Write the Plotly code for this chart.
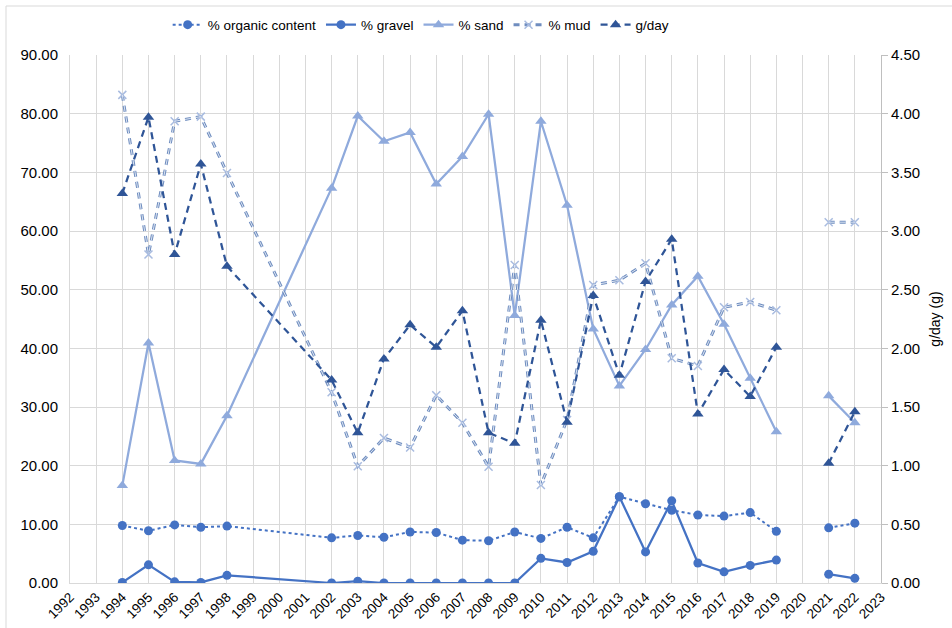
import plotly.graph_objects as go

years = [1994, 1995, 1996, 1997, 1998, 2002, 2003, 2004, 2005, 2006, 2007, 2008,
         2009, 2010, 2011, 2012, 2013, 2014, 2015, 2016, 2017, 2018, 2019, 2020,
         2021, 2022]

organic = [9.8, 8.9, 9.9, 9.5, 9.7, 7.7, 8.1, 7.8, 8.7, 8.6, 7.3, 7.2,
           8.7, 7.6, 9.5, 7.7, 14.7, 13.5, 12.4, 11.6, 11.4, 12.0, 8.8, None,
           9.4, 10.2]
gravel = [0.1, 3.1, 0.2, 0.1, 1.3, 0.0, 0.3, 0.0, 0.0, 0.0, 0.0, 0.0,
          0.0, 4.2, 3.5, 5.4, 14.7, 5.3, 14.0, 3.4, 1.9, 3.0, 3.9, None,
          1.5, 0.8]
sand = [16.6, 40.9, 20.9, 20.3, 28.5, 67.3, 79.6, 75.3, 76.8, 68.0, 72.7, 79.9,
        45.6, 78.7, 64.4, 43.3, 33.6, 39.8, 47.4, 52.3, 44.1, 34.9, 25.8, None,
        31.9, 27.3]
mud = [83.2, 56.0, 78.7, 79.5, 69.9, 32.5, 19.9, 24.7, 23.1, 32.0, 27.3, 19.8,
       54.2, 16.7, 27.8, 50.8, 51.6, 54.5, 38.3, 37.0, 47.0, 47.9, 46.5, None,
       61.5, 61.5]
gday = [3.32, 3.97, 2.80, 3.57, 2.70, 1.73, 1.28, 1.91, 2.20, 2.01, 2.32, 1.28,
        1.19, 2.24, 1.37, 2.45, 1.77, 2.57, 2.93, 1.44, 1.82, 1.59, 2.01, None,
        1.02, 1.46]

left_ticks = [0, 10, 20, 30, 40, 50, 60, 70, 80, 90]
right_ticks = [0, 0.5, 1.0, 1.5, 2.0, 2.5, 3.0, 3.5, 4.0, 4.5]
x_ticks = list(range(1992, 2024))

C_ORG = "#4472C4"
C_SAND = "#8FAADC"
C_MUD = "#6F8DBF"
C_MUD_IN = "#DCE5F3"
C_GDAY = "#2F5597"
FONT = "Liberation Sans, Arial, sans-serif"

fig = go.Figure()
fig.add_trace(go.Scatter(x=years, y=organic, name="% organic content", mode="lines+markers",
                         line=dict(color=C_ORG, width=2, dash="dot"),
                         marker=dict(symbol="circle", size=9, color=C_ORG)))
fig.add_trace(go.Scatter(x=years, y=gravel, name="% gravel", mode="lines+markers",
                         line=dict(color=C_ORG, width=2.25),
                         marker=dict(symbol="circle", size=9, color=C_ORG)))
fig.add_trace(go.Scatter(x=years, y=sand, name="% sand", mode="lines+markers",
                         line=dict(color=C_SAND, width=2.25),
                         marker=dict(symbol="triangle-up", size=10, color=C_SAND)))
fig.add_trace(go.Scatter(x=years, y=mud, name="% mud", mode="lines+markers",
                         line=dict(color=C_MUD, width=3, dash="6px,5px"),
                         marker=dict(symbol="x-thin", size=8, color="#A9BCE0",
                                     line=dict(color="#A9BCE0", width=1.5))))
fig.add_trace(go.Scatter(x=years, y=mud, name="% mud", mode="lines", showlegend=False,
                         line=dict(color=C_MUD_IN, width=1, dash="6px,5px"),
                         hoverinfo="skip"))
fig.add_trace(go.Scatter(x=years, y=gday, name="g/day", mode="lines+markers", yaxis="y2",
                         line=dict(color=C_GDAY, width=2.25, dash="7px,5px"),
                         marker=dict(symbol="triangle-up", size=10, color=C_GDAY)))

fig.update_layout(
    width=952, height=628,
    margin=dict(l=70, r=71, t=55, b=45, autoexpand=False),
    paper_bgcolor="white", plot_bgcolor="white",
    font=dict(family=FONT, size=15, color="#000000"),
    showlegend=True,
    legend=dict(orientation="h", x=0.433, xanchor="center", y=1.057, yanchor="middle",
                font=dict(size=13.5), traceorder="normal", itemwidth=30,
                bgcolor="rgba(0,0,0,0)"),
    xaxis=dict(range=[1992, 2023], tickmode="array", tickvals=x_ticks,
               ticktext=[str(v) for v in x_ticks], tickangle=-45,
               showgrid=True, gridcolor="#D9D9D9", gridwidth=1,
               showline=True, linecolor="#D9D9D9", zeroline=False,
               tickfont=dict(size=13.5), automargin=False),
    yaxis=dict(range=[0, 90], tickmode="array", tickvals=left_ticks,
               tickformat=".2f", showgrid=True, gridcolor="#D9D9D9", gridwidth=1,
               showline=True, linecolor="#D9D9D9", zeroline=False,
               ticklabelstandoff=8, automargin=False),
    yaxis2=dict(range=[0, 4.5], tickmode="array", tickvals=right_ticks,
                tickformat=".2f", overlaying="y", side="right", showgrid=False,
                showline=True, linecolor="#BFBFBF", ticks="outside", ticklen=6,
                tickcolor="#BFBFBF", zeroline=False, automargin=False,
                title=dict(text="g/day (g)", font=dict(size=14), standoff=10)),
    shapes=[dict(type="rect", xref="paper", yref="paper",
                 x0=-0.0789, y0=-0.095, x1=1.092, y1=1.0928,
                 line=dict(color="#D9D9D9", width=1), fillcolor="rgba(0,0,0,0)",
                 layer="below")],
)

fig.write_html("out.html", config={"displayModeBar": False},
               post_script="document.body.style.margin='0px';document.body.style.overflow='hidden';")
